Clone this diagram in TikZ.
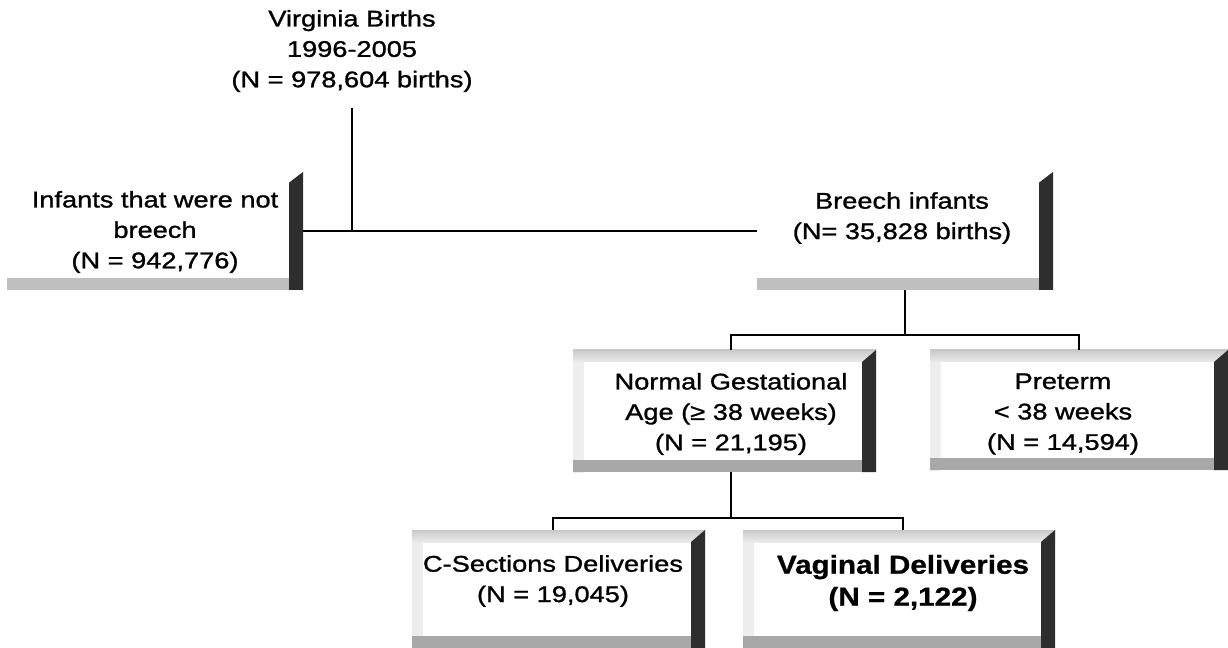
\documentclass[tikz,border=0pt]{standalone}
\usepackage{fontspec}
\setmainfont{Liberation Sans}[FakeStretch=1.18]
\newfontfamily\regfont{Liberation Sans}[FakeStretch=1.2,FakeBold=1.2]
\newfontfamily\heavyfont{Liberation Sans Bold}[FakeStretch=1.14,FakeBold=0.8]
\usetikzlibrary{calc}
\begin{document}
\begin{tikzpicture}[x=0.75pt,y=-0.75pt,
  conn/.style={line width=1.5pt,black},
  txt/.style={align=center,inner sep=0pt,font=\regfont\fontsize{17pt}{22.8pt}\selectfont},
  boldtxt/.style={align=center,inner sep=0pt,font=\heavyfont\fontsize{19.5pt}{24pt}\selectfont},
  boxbase/.style={inner sep=0pt,outer sep=0pt},
  upperbox/.style={boxbase,
    path picture={
      \fill[gray!50] (path picture bounding box.south west) rectangle ([yshift=9pt]path picture bounding box.south east);
      \fill[black!82] ([xshift=-10.5pt]path picture bounding box.south east) -- (path picture bounding box.south east)
        -- (path picture bounding box.north east) -- ([xshift=-10.5pt,yshift=-8pt]path picture bounding box.north east) -- cycle;
    }},
  lowerbox/.style={boxbase,
    path picture={
      \shade[left color=gray!14,right color=white] (path picture bounding box.south west) rectangle ([xshift=8pt]path picture bounding box.north west);
      \shade[top color=gray!42,bottom color=gray!16] (path picture bounding box.north west) rectangle ([yshift=-9pt]path picture bounding box.north east);
      \fill[gray!68] (path picture bounding box.south west) rectangle ([yshift=9pt]path picture bounding box.south east);
      \fill[black!82] ([xshift=-10.5pt]path picture bounding box.south east) -- (path picture bounding box.south east)
        -- (path picture bounding box.north east) -- ([xshift=-10.5pt,yshift=-9pt]path picture bounding box.north east) -- cycle;
    }}
]
\fill[white] (0,0) rectangle (1228,648);
\useasboundingbox (0,0) rectangle (1228,648);

% boxes
\node[upperbox,minimum width=222pt,minimum height=88.5pt] (notbreechB) at (155,231) {};
\node[upperbox,minimum width=222pt,minimum height=88.5pt] (breechB) at (905,231) {};
\node[lowerbox,minimum width=227.25pt,minimum height=91.5pt] (ngaB) at (724.5,411) {};
\node[lowerbox,minimum width=223.5pt,minimum height=90pt] (pretermB) at (1079,410) {};
\node[lowerbox,minimum width=219.75pt,minimum height=88.5pt] (cB) at (558.5,589) {};
\node[lowerbox,minimum width=234pt,minimum height=88.5pt] (vB) at (899,589) {};

% texts
\node[txt] (births) at (352,51) {Virginia Births\\1996-2005\\(N = 978,604 births)};
\node[txt] (notbreech) at (155,232) {Infants that were not\\breech\\(N = 942,776)};
\node[txt] (breech) at (902,218) {Breech infants\\(N= 35,828 births)};
\node[txt] (nga) at (731,414) {Normal Gestational\\Age (≥ 38 weeks)\\(N = 21,195)};
\node[txt] (preterm) at (1063,414) {Preterm\\< 38 weeks\\(N = 14,594)};
\node[txt] (csec) at (553,581) {C-Sections Deliveries\\(N = 19,045)};
\node[boldtxt] (vag) at (903,583) {Vaginal Deliveries\\(N = 2,122)};

% connectors
\coordinate (j1) at (905,335);
\coordinate (j2) at (731,518);
\draw[conn,shorten <=12pt] (births.south) -- (births.south |- notbreechB.east);
\draw[conn] (notbreechB.east) -- (breechB.west);
\draw[conn] (breechB.south) -- (j1);
\draw[conn] (ngaB.north -| nga.center) -- (j1 -| nga.center) -- (j1 -| pretermB.north) -- (pretermB.north);
\draw[conn] (ngaB.south -| nga.center) -- (j2);
\draw[conn] (cB.north -| csec.center) -- (j2 -| csec.center) -- (j2 -| vag.center) -- (vB.north -| vag.center);
\end{tikzpicture}
\end{document}
